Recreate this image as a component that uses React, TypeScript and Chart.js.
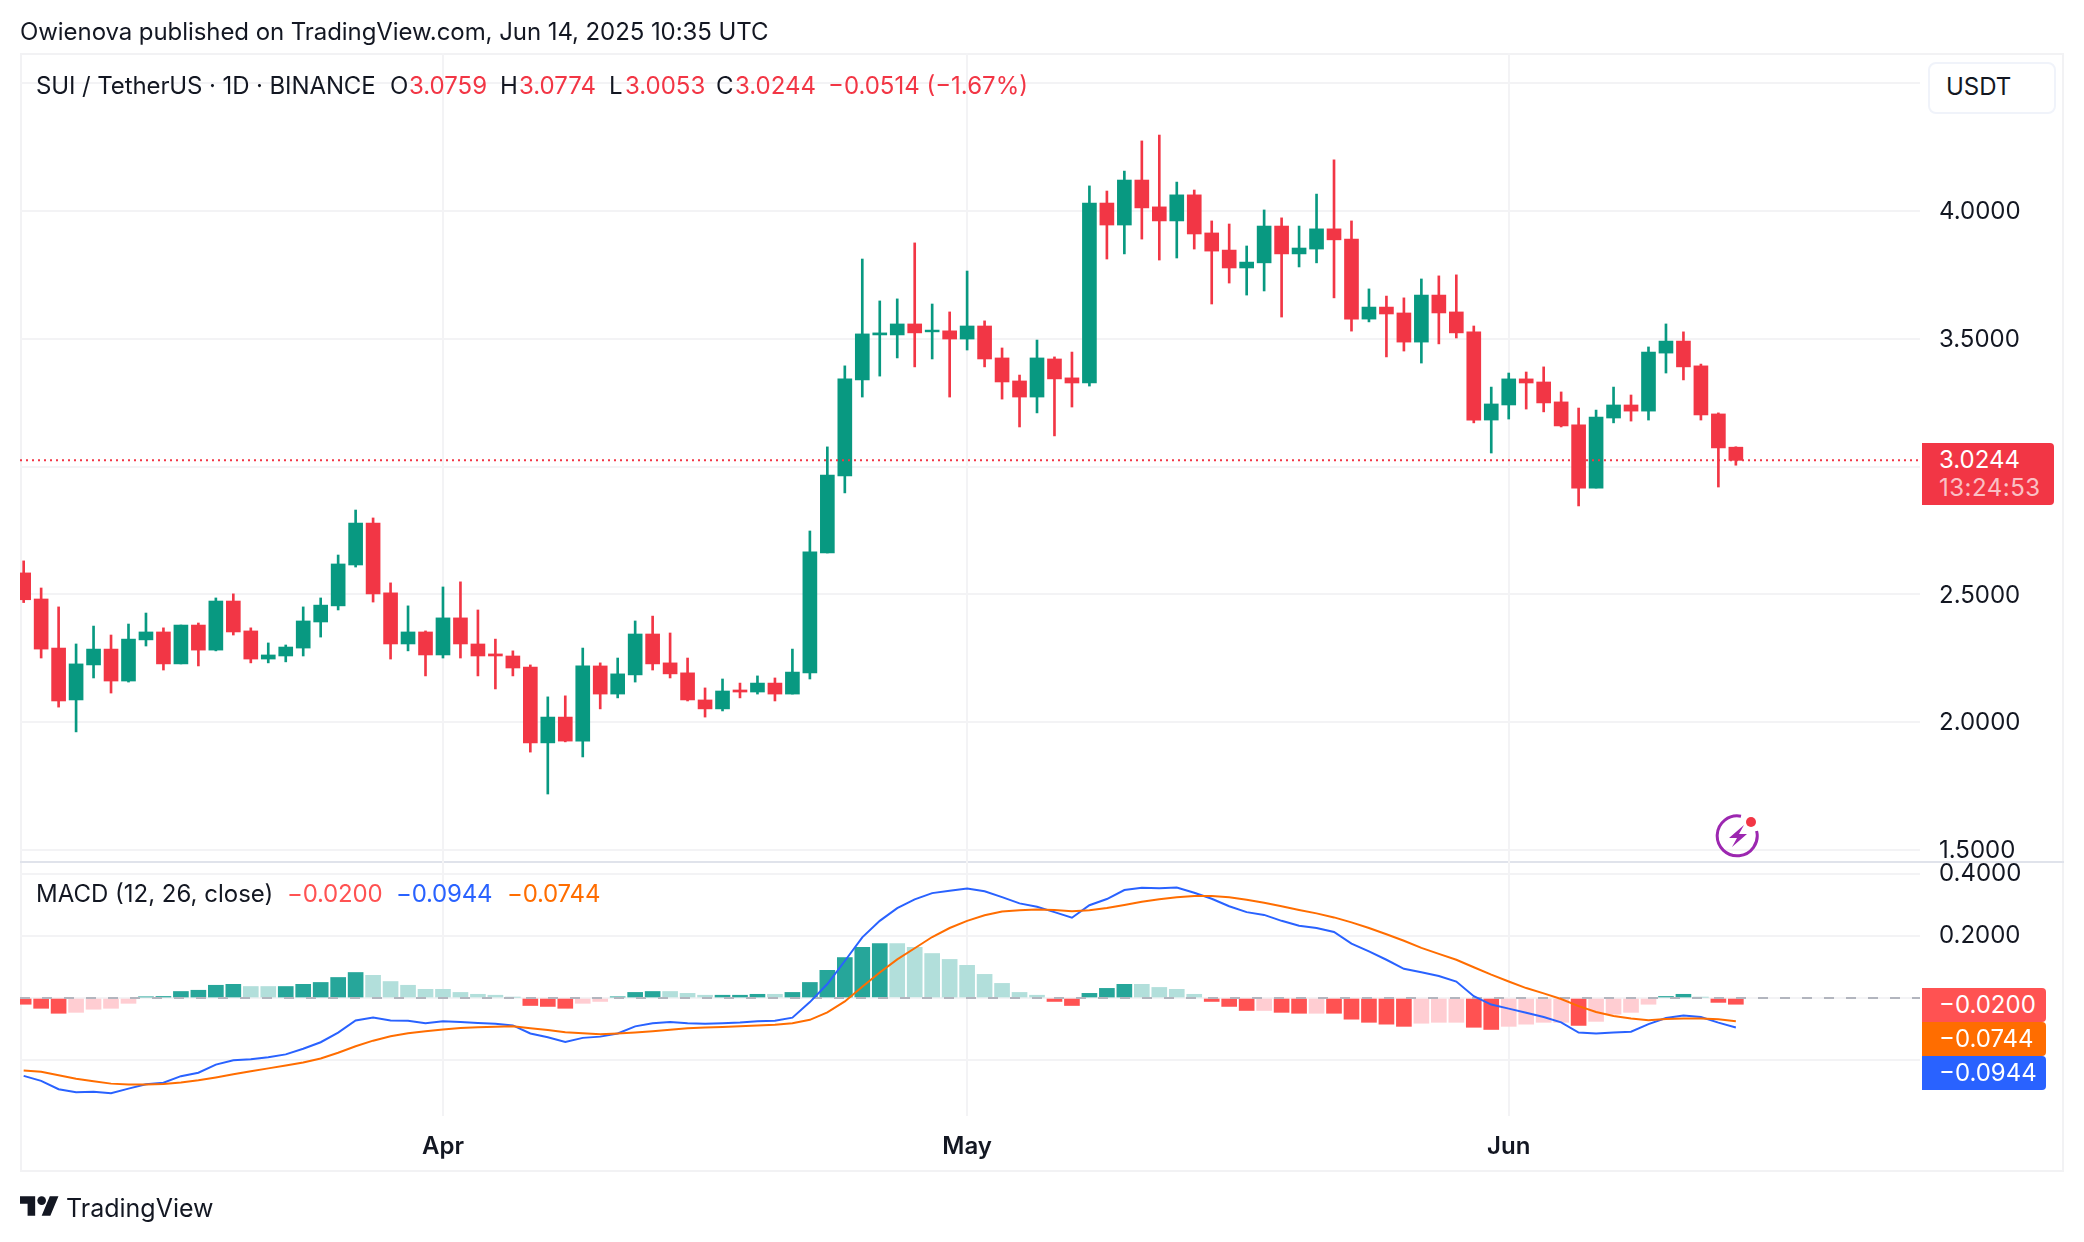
import { useRef, useEffect } from "react";
import { Chart, registerables } from "chart.js";

Chart.register(...registerables);

const FONT = "Inter, sans-serif";
const INK = "#131722";
const UP = "#089981";
const DOWN = "#f23645";
const GRID = "#f3f3f5";
const FRAME = "#f2f2f4";

/* daily candles, Mar 8 to Jun 14 2025 */
const opens = [
  2.584, 2.482, 2.29, 2.087, 2.224, 2.286, 2.161, 2.322, 2.353, 2.228,
  2.38, 2.282, 2.474, 2.357, 2.247, 2.259, 2.29, 2.392, 2.455, 2.615,
  2.779, 2.506, 2.306, 2.353, 2.263, 2.408, 2.306, 2.267, 2.259, 2.216,
  1.919, 2.02, 1.926, 2.22, 2.11, 2.185, 2.345, 2.232, 2.193, 2.087,
  2.052, 2.126, 2.118, 2.153, 2.11, 2.193, 2.662, 2.963, 3.339, 3.515,
  3.515, 3.558, 3.527, 3.531, 3.499, 3.55, 3.425, 3.335, 3.272, 3.421,
  3.347, 3.327, 4.031, 3.945, 4.121, 4.016, 3.961, 4.063, 3.914, 3.847,
  3.777, 3.797, 3.941, 3.832, 3.851, 3.93, 3.89, 3.577, 3.624, 3.601,
  3.487, 3.671, 3.605, 3.527, 3.182, 3.241, 3.343, 3.331, 3.253, 3.163,
  2.916, 3.19, 3.241, 3.217, 3.444, 3.491, 3.394, 3.206, 3.0759,
];
const closes = [
  2.479, 2.286, 2.083, 2.228, 2.286, 2.161, 2.325, 2.353, 2.228, 2.38,
  2.282, 2.474, 2.353, 2.247, 2.263, 2.294, 2.396, 2.458, 2.619, 2.779,
  2.502, 2.306, 2.353, 2.263, 2.408, 2.306, 2.259, 2.259, 2.212, 1.919,
  2.02, 1.926, 2.22, 2.11, 2.189, 2.345, 2.228, 2.189, 2.087, 2.052,
  2.122, 2.118, 2.153, 2.11, 2.196, 2.666, 2.967, 3.343, 3.519, 3.523,
  3.558, 3.523, 3.534, 3.499, 3.55, 3.421, 3.331, 3.272, 3.425, 3.343,
  3.327, 4.031, 3.945, 4.121, 4.012, 3.961, 4.063, 3.91, 3.843, 3.777,
  3.8, 3.941, 3.832, 3.855, 3.93, 3.887, 3.577, 3.624, 3.597, 3.487,
  3.671, 3.601, 3.523, 3.182, 3.245, 3.343, 3.327, 3.249, 3.159, 2.916,
  3.194, 3.241, 3.217, 3.448, 3.491, 3.39, 3.202, 3.073, 3.0244,
];
const highs = [
  2.631, 2.525, 2.451, 2.306, 2.376, 2.341, 2.384, 2.427, 2.369, 2.38,
  2.388, 2.486, 2.502, 2.369, 2.31, 2.302, 2.451, 2.486, 2.654, 2.83,
  2.799, 2.545, 2.455, 2.357, 2.529, 2.549, 2.439, 2.325, 2.279, 2.224,
  2.099, 2.103, 2.29, 2.232, 2.251, 2.396, 2.415, 2.349, 2.251, 2.134,
  2.169, 2.153, 2.181, 2.173, 2.286, 2.748, 3.077, 3.394, 3.812, 3.648,
  3.656, 3.875, 3.636, 3.605, 3.765, 3.57, 3.464, 3.358, 3.495, 3.429,
  3.448, 4.098, 4.078, 4.156, 4.274, 4.297, 4.113, 4.082, 3.961, 3.949,
  3.863, 4.004, 3.973, 3.941, 4.066, 4.2, 3.961, 3.695, 3.667, 3.66,
  3.734, 3.746, 3.75, 3.55, 3.311, 3.366, 3.37, 3.39, 3.292, 3.229,
  3.221, 3.311, 3.28, 3.468, 3.558, 3.527, 3.401, 3.21, 3.0774,
];
const lows = [
  2.468, 2.251, 2.059, 1.962, 2.173, 2.114, 2.157, 2.298, 2.204, 2.228,
  2.22, 2.279, 2.341, 2.232, 2.232, 2.236, 2.259, 2.333, 2.439, 2.607,
  2.47, 2.247, 2.279, 2.181, 2.251, 2.251, 2.181, 2.13, 2.181, 1.883,
  1.719, 1.923, 1.864, 2.052, 2.095, 2.157, 2.204, 2.173, 2.083, 2.02,
  2.044, 2.095, 2.11, 2.083, 2.11, 2.169, 2.662, 2.897, 3.272, 3.354,
  3.425, 3.39, 3.421, 3.272, 3.456, 3.39, 3.264, 3.155, 3.21, 3.12,
  3.233, 3.315, 3.812, 3.832, 3.89, 3.808, 3.816, 3.851, 3.636, 3.718,
  3.671, 3.687, 3.585, 3.781, 3.797, 3.66, 3.53, 3.566, 3.429, 3.452,
  3.405, 3.48, 3.503, 3.171, 3.053, 3.186, 3.225, 3.214, 3.155, 2.846,
  2.916, 3.171, 3.178, 3.182, 3.366, 3.339, 3.182, 2.92, 3.0053,
];

const histogram = [
  -0.02, -0.033, -0.049, -0.046, -0.036, -0.033, -0.017, 0.004, 0.005, 0.021,
  0.025, 0.041, 0.044, 0.037, 0.037, 0.037, 0.044, 0.05, 0.066, 0.082,
  0.073, 0.053, 0.041, 0.028, 0.028, 0.018, 0.012, 0.009, 0.002, -0.024,
  -0.027, -0.033, -0.017, -0.011, 0.004, 0.018, 0.021, 0.021, 0.015, 0.009,
  0.009, 0.009, 0.012, 0.012, 0.018, 0.05, 0.089, 0.13, 0.163, 0.175,
  0.175, 0.163, 0.143, 0.124, 0.105, 0.076, 0.047, 0.018, 0.009, -0.011,
  -0.024, 0.015, 0.031, 0.044, 0.044, 0.034, 0.028, 0.012, -0.011, -0.027,
  -0.04, -0.04, -0.046, -0.049, -0.049, -0.049, -0.068, -0.078, -0.084, -0.091,
  -0.081, -0.078, -0.078, -0.094, -0.101, -0.091, -0.084, -0.078, -0.078, -0.088,
  -0.075, -0.052, -0.046, -0.02, 0.005, 0.012, 0.002, -0.014, -0.02,
];
/* 1 = full colour bar, 0 = pale bar */
const histogramStrong = [
  1, 1, 1, 0, 0, 0, 0, 1, 1, 1,
  1, 1, 1, 0, 0, 1, 1, 1, 1, 1,
  0, 0, 0, 0, 0, 0, 0, 0, 0, 1,
  1, 1, 0, 0, 1, 1, 1, 0, 0, 0,
  1, 1, 1, 0, 1, 1, 1, 1, 1, 1,
  0, 0, 0, 0, 0, 0, 0, 0, 0, 1,
  1, 1, 1, 1, 0, 0, 0, 0, 1, 1,
  1, 0, 1, 1, 0, 1, 1, 1, 1, 1,
  0, 0, 0, 1, 1, 0, 0, 0, 0, 1,
  0, 0, 0, 0, 1, 1, 0, 1, 1,
];
const macdLine = [
  -0.25, -0.266, -0.293, -0.303, -0.301, -0.306, -0.291, -0.277, -0.272, -0.251,
  -0.24, -0.214, -0.2, -0.197, -0.19, -0.181, -0.163, -0.142, -0.111, -0.072,
  -0.063, -0.072, -0.073, -0.081, -0.075, -0.077, -0.08, -0.083, -0.088, -0.114,
  -0.126, -0.141, -0.128, -0.124, -0.114, -0.091, -0.081, -0.077, -0.081, -0.083,
  -0.081, -0.079, -0.075, -0.073, -0.063, -0.013, 0.045, 0.119, 0.195, 0.248,
  0.289, 0.317, 0.337, 0.345, 0.352, 0.343, 0.324, 0.304, 0.293, 0.276,
  0.258, 0.298, 0.318, 0.347, 0.354, 0.353, 0.355, 0.338, 0.319, 0.295,
  0.276, 0.267, 0.248, 0.232, 0.225, 0.212, 0.175, 0.15, 0.123, 0.094,
  0.083, 0.071, 0.053, 0.006, -0.021, -0.034, -0.047, -0.061, -0.078, -0.111,
  -0.114, -0.111, -0.108, -0.084, -0.064, -0.056, -0.061, -0.079, -0.0944,
];
const signalLine = [
  -0.233, -0.237, -0.248, -0.259, -0.267, -0.275, -0.278, -0.278, -0.276, -0.271,
  -0.264, -0.255, -0.245, -0.235, -0.226, -0.217, -0.207, -0.194, -0.176, -0.155,
  -0.137, -0.123, -0.113, -0.107, -0.101, -0.096, -0.094, -0.092, -0.091, -0.097,
  -0.103, -0.11, -0.113, -0.116, -0.114, -0.111, -0.107, -0.102, -0.097, -0.095,
  -0.093, -0.091, -0.088, -0.086, -0.081, -0.07, -0.046, -0.011, 0.036, 0.082,
  0.124, 0.16, 0.196, 0.225, 0.248, 0.266, 0.278, 0.282, 0.284, 0.283,
  0.279, 0.282, 0.289, 0.299, 0.309, 0.317, 0.324, 0.328, 0.328, 0.324,
  0.316, 0.306, 0.295, 0.283, 0.272, 0.259, 0.243, 0.225, 0.205, 0.184,
  0.161, 0.142, 0.123, 0.099, 0.075, 0.053, 0.032, 0.015, -0.003, -0.026,
  -0.045, -0.058, -0.066, -0.071, -0.067, -0.066, -0.066, -0.068, -0.0744,
];

const lastPrice = 3.0244;
const monthLabels = ["Apr", "May", "Jun"];
const monthIndexes = [24, 54, 85];
const priceTicks = [1.5, 2, 2.5, 3, 3.5, 4, 4.5];
const hiddenPriceTicks = [3, 4.5]; // covered by the tag and the USDT box
const macdTicks = [-0.2, 0, 0.2, 0.4];
const hiddenMacdTicks = [-0.2, 0];

const xMin = -0.21;
const xMax = 108.54;

const isUp = (i: number) => closes[i] >= opens[i];
const candleColors = opens.map((_, i) => (isUp(i) ? UP : DOWN));
const histColors = histogram.map((v, i) => {
  if (v >= 0) return histogramStrong[i] ? "#26a69a" : "#b2dfdb";
  return histogramStrong[i] ? "#ff5252" : "#ffcdd2";
});

function CandleChart() {
  const canvasRef = useRef<HTMLCanvasElement>(null);

  useEffect(() => {
    if (!canvasRef.current) return;
    const chart = new Chart(canvasRef.current, {
      type: "bar",
      data: {
        datasets: [
          {
            type: "line",
            data: [
              { x: xMin, y: lastPrice },
              { x: xMax, y: lastPrice },
            ],
            yAxisID: "y",
            borderColor: DOWN,
            borderWidth: 2,
            borderDash: [2, 4],
            pointRadius: 0,
            order: 1,
          },
          {
            type: "bar",
            data: opens.map((o, i) => ({ x: i, y: [o, closes[i]] })),
            yAxisID: "y",
            backgroundColor: candleColors,
            barThickness: 14,
            grouped: false,
            order: 2,
          },
          {
            type: "bar",
            data: lows.map((l, i) => ({ x: i, y: [l, highs[i]] })),
            yAxisID: "y",
            backgroundColor: candleColors,
            barThickness: 2,
            grouped: false,
            order: 3,
          },
          {
            type: "line",
            data: macdLine.map((v, i) => ({ x: i, y: v })),
            yAxisID: "yMacd",
            borderColor: "#2962ff",
            borderWidth: 2,
            pointRadius: 0,
            tension: 0,
            order: 5,
          },
          {
            type: "line",
            data: signalLine.map((v, i) => ({ x: i, y: v })),
            yAxisID: "yMacd",
            borderColor: "#ff6d00",
            borderWidth: 2,
            pointRadius: 0,
            tension: 0,
            order: 4,
          },
          {
            type: "line",
            data: [
              { x: xMin, y: 0 },
              { x: xMax, y: 0 },
            ],
            yAxisID: "yMacd",
            borderColor: "#b2b5be",
            borderWidth: 2,
            borderDash: [10, 12],
            pointRadius: 0,
            order: 6,
          },
          {
            type: "bar",
            data: histogram.map((v, i) => ({ x: i, y: v })),
            yAxisID: "yMacd",
            backgroundColor: histColors,
            barThickness: 15,
            grouped: false,
            order: 7,
          },
        ],
      } as never,
      options: {
        responsive: false,
        animation: false,
        layout: { padding: { left: 20, right: 20, top: 53, bottom: 70 } },
        plugins: { legend: { display: false }, tooltip: { enabled: false } },
        scales: {
          x: {
            type: "linear",
            min: xMin,
            max: xMax,
            offset: false,
            border: { display: false },
            grid: { color: GRID, lineWidth: 2, offset: false, drawTicks: false },
            afterBuildTicks: (scale: any) => {
              scale.ticks = monthIndexes.map((value) => ({ value }));
            },
            afterFit: (scale: any) => {
              scale.height = 56;
            },
            ticks: {
              autoSkip: false,
              maxRotation: 0,
              padding: 16,
              color: INK,
              font: { family: FONT, size: 24, weight: 600 },
              callback: (value: any) => monthLabels[monthIndexes.indexOf(value)],
            },
          },
          y: {
            type: "linear",
            position: "right",
            stack: "panes",
            stackWeight: 809,
            min: 1.453,
            max: 4.618,
            border: { display: false },
            grid: { color: GRID, lineWidth: 2, drawTicks: false },
            afterBuildTicks: (scale: any) => {
              scale.ticks = priceTicks.map((value) => ({ value }));
            },
            afterFit: (scale: any) => {
              scale.width = 144;
            },
            ticks: {
              padding: 19,
              labelOffset: 1,
              color: INK,
              font: { family: FONT, size: 24 },
              callback: (value: any) =>
                hiddenPriceTicks.includes(value) ? "" : Number(value).toFixed(4),
            },
          },
          yMacd: {
            type: "linear",
            position: "right",
            stack: "panes",
            stackWeight: 254,
            min: -0.379,
            max: 0.437,
            border: { display: false },
            grid: { color: GRID, lineWidth: 2, drawTicks: false },
            afterBuildTicks: (scale: any) => {
              scale.ticks = macdTicks.map((value) => ({ value }));
            },
            afterFit: (scale: any) => {
              scale.width = 144;
            },
            ticks: {
              padding: 19,
              color: INK,
              font: { family: FONT, size: 24 },
              callback: (value: any) =>
                hiddenMacdTicks.includes(value) ? "" : Number(value).toFixed(4),
            },
          },
        },
      } as never,
    });
    return () => chart.destroy();
  }, []);

  return (
    <canvas
      ref={canvasRef}
      width={2084}
      height={1242}
      style={{ position: "absolute", left: 0, top: 0, width: 2084, height: 1242 }}
    />
  );
}

function Text({ x, y, color = INK, size = 24, weight = 400, spacing = 0, children }: any) {
  return (
    <span
      style={{
        position: "absolute",
        left: x,
        top: y,
        transform: "translateY(-50%)",
        color,
        fontSize: size,
        fontWeight: weight,
        letterSpacing: spacing,
        whiteSpace: "nowrap",
        lineHeight: 1,
      }}
    >
      {children}
    </span>
  );
}

function Tag({ top, height, width, color, children }: any) {
  return (
    <div
      style={{
        position: "absolute",
        left: 1922,
        top,
        width,
        height,
        background: color,
        borderRadius: "0 4px 4px 0",
      }}
    >
      {children}
    </div>
  );
}

export default function App() {
  return (
    <div
      style={{
        position: "absolute",
        left: 0,
        top: 0,
        width: 2084,
        height: 1242,
        background: "#fff",
        overflow: "hidden",
        fontFamily: FONT,
      }}
    >
      {/* chart frame and the line between the panes */}
      <div
        style={{
          position: "absolute",
          left: 20,
          top: 53,
          width: 2044,
          height: 1119,
          boxSizing: "border-box",
          border: `2px solid ${FRAME}`,
        }}
      />
      <div style={{ position: "absolute", left: 20, top: 861, width: 2044, height: 2, background: "#e0e3eb" }} />

      <CandleChart />

      <Text x={20} y={32} spacing={-0.07}>Owienova published on TradingView.com, Jun 14, 2025 10:35 UTC</Text>

      <Text x={36} y={86} spacing={-0.1}>SUI / TetherUS · 1D · BINANCE</Text>
      <Text x={390} y={86}>O</Text>
      <Text x={409} y={86} color={DOWN}>3.0759</Text>
      <Text x={500} y={86}>H</Text>
      <Text x={519} y={86} color={DOWN}>3.0774</Text>
      <Text x={609} y={86}>L</Text>
      <Text x={625} y={86} color={DOWN}>3.0053</Text>
      <Text x={716} y={86}>C</Text>
      <Text x={735} y={86} color={DOWN}>3.0244</Text>
      <Text x={828} y={86} color={DOWN}>−0.0514 (−1.67%)</Text>

      <Text x={36} y={894}>MACD (12, 26, close)</Text>
      <Text x={287} y={894} color="#ff5252" spacing={-0.2}>−0.0200</Text>
      <Text x={396} y={894} color="#2962ff" spacing={-0.2}>−0.0944</Text>
      <Text x={507} y={894} color="#ff6d00" spacing={-0.2}>−0.0744</Text>

      <div
        style={{
          position: "absolute",
          left: 1928,
          top: 62,
          width: 128,
          height: 52,
          boxSizing: "border-box",
          border: "2px solid #f0f3fa",
          borderRadius: 8,
          background: "#fff",
        }}
      />
      <Text x={1946} y={87}>USDT</Text>

      <Tag top={443} height={62} width={132} color={DOWN} />
      <Text x={1939} y={460} color="#fff">3.0244</Text>
      <Text x={1939} y={488} color="rgba(255,255,255,0.7)" spacing={0.5}>13:24:53</Text>

      <Tag top={988} height={34} width={124} color="#ff5252" />
      <Tag top={1022} height={34} width={124} color="#ff6d00" />
      <Tag top={1056} height={34} width={124} color="#2962ff" />
      <Text x={1939} y={1005} color="#fff">−0.0200</Text>
      <Text x={1939} y={1039} color="#fff">−0.0744</Text>
      <Text x={1939} y={1073} color="#fff">−0.0944</Text>

      {/* snap-publish badge */}
      <svg style={{ position: "absolute", left: 1715, top: 813 }} width={46} height={46} viewBox="0 0 46 46">
        <path d="M26 3.2 A20 20 0 1 0 41.6 18" fill="none" stroke="#9c27b0" strokeWidth={3} />
        <path d="M29 12 L14 25 L22 25 L17 34 L32 21 L24 21 Z" fill="#9c27b0" />
        <circle cx={36} cy={9} r={5} fill="#f23645" />
      </svg>

      {/* TradingView mark */}
      <svg style={{ position: "absolute", left: 20, top: 1196 }} width={39} height={20} viewBox="0 4 36 18">
        <path d="M14 22H7V11H0V4h14v18zM28 22h-8l7.5-18h8L28 22z" fill={INK} />
        <circle cx={20} cy={8} r={4} fill={INK} />
      </svg>
      <Text x={66} y={1208} size={25}>TradingView</Text>
    </div>
  );
}
